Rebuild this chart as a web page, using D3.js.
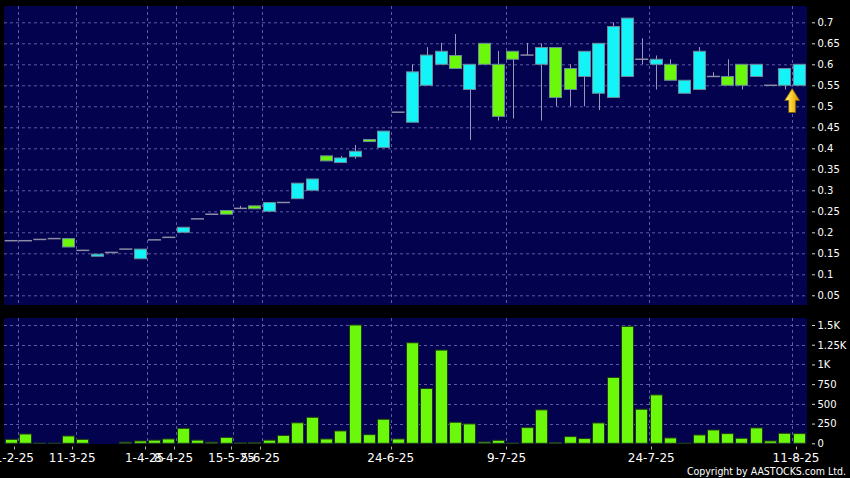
<!DOCTYPE html>
<html><head><meta charset="utf-8">
<script src="https://cdn.jsdelivr.net/npm/d3@7/dist/d3.min.js"></script>
<style>
html,body{margin:0;padding:0;background:#000;}
svg{display:block;}
</style></head>
<body>
<svg id="chart" width="850" height="478"></svg>
<script>
// ---- data ----
const openP  = [0.18,0.18,0.183,0.185,0.185,0.157,0.143,0.152,0.16,0.137,0.182,0.188,0.20,0.232,0.243,0.252,0.257,0.263,0.25,0.271,0.28,0.30,0.382,0.366,0.38,0.421,0.402,0.486,0.462,0.55,0.60,0.621,0.54,0.65,0.60,0.631,0.622,0.60,0.64,0.59,0.571,0.531,0.521,0.571,0.612,0.60,0.60,0.531,0.54,0.571,0.571,0.60,0.571,0.55,0.55,0.55];
const highP  = [0.18,0.18,0.183,0.185,0.185,0.157,0.148,0.152,0.16,0.16,0.182,0.188,0.212,0.232,0.243,0.252,0.263,0.263,0.271,0.271,0.317,0.327,0.382,0.382,0.408,0.421,0.441,0.486,0.60,0.641,0.651,0.672,0.60,0.65,0.632,0.631,0.651,0.65,0.64,0.60,0.631,0.65,0.70,0.71,0.662,0.621,0.612,0.562,0.641,0.581,0.612,0.60,0.60,0.55,0.59,0.60];
const lowP   = [0.18,0.18,0.183,0.185,0.165,0.157,0.143,0.152,0.16,0.137,0.182,0.188,0.20,0.232,0.243,0.243,0.257,0.256,0.25,0.271,0.28,0.30,0.37,0.366,0.375,0.416,0.402,0.486,0.462,0.55,0.60,0.59,0.42,0.60,0.466,0.471,0.622,0.466,0.50,0.50,0.50,0.491,0.521,0.571,0.60,0.54,0.562,0.531,0.54,0.571,0.55,0.54,0.571,0.55,0.54,0.55];
const closeP = [0.18,0.18,0.183,0.185,0.165,0.157,0.148,0.152,0.16,0.16,0.182,0.188,0.212,0.232,0.243,0.243,0.257,0.256,0.271,0.271,0.317,0.327,0.37,0.377,0.393,0.416,0.441,0.486,0.582,0.622,0.631,0.59,0.60,0.60,0.476,0.612,0.622,0.64,0.521,0.54,0.631,0.65,0.69,0.71,0.612,0.612,0.562,0.562,0.631,0.571,0.55,0.55,0.60,0.55,0.59,0.60];
const volume = [50,118,3,2,93,50,0,0,15,30,40,55,190,40,15,75,5,12,40,100,260,330,55,157,1500,110,305,55,1275,695,1182,267,246,17,38,4,199,424,8,85,60,258,835,1483,432,614,68,2,106,169,123,64,195,30,127,123];
const dateTickIdx    = [0,4,9,11,15,17,26,34,44,54];
const dateTickLabels = ["1-2-25","11-3-25","1-4-25","8-4-25","15-5-25","5-6-25","24-6-25","9-7-25","24-7-25","11-8-25"];
const priceTicks = [0.05,0.1,0.15,0.2,0.25,0.3,0.35,0.4,0.45,0.5,0.55,0.6,0.65,0.7];
const volTicks = [0,250,500,750,1000,1250,1500];
const volTickLabels = ["0","250","500","750","1K","1.25K","1.5K"];
const arrowIdx = 54;

// ---- layout ----
const svg = d3.select("#chart");
const L = 4, R = 807;
const topP = {y0: 6, y1: 305};
const botP = {y0: 318, y1: 444};
const n = openP.length;

const x = d3.scaleBand().domain(d3.range(n)).range([4, 806.5]).paddingInner(0.09).paddingOuter(0.045);
const xTick = d3.scaleLinear().domain([0, 54]).range([14.3, 796]);
const yP = d3.scaleLinear().domain([0, 0.7]).range([316.3, 22.3]);
const yV = d3.scaleLinear().domain([0, 1500]).range([443.3, 325]);
const bw = x.bandwidth();
const gap = x.step() * x.paddingInner();
const boundary = i => x(i) + bw + gap / 2;

const BG = "#02024e", GRID = "#5a5aa6", CYAN = "#14f4f8", GREEN = "#6cf80a";
const defs = svg.append("defs");
defs.append("clipPath").attr("id","cTop").append("rect").attr("x",L).attr("y",topP.y0).attr("width",R-L).attr("height",topP.y1-topP.y0);
defs.append("clipPath").attr("id","cBot").append("rect").attr("x",L).attr("y",botP.y0).attr("width",R-L).attr("height",botP.y1-botP.y0);
const grad = defs.append("linearGradient").attr("id","arrowG").attr("x1","0").attr("x2","1").attr("y1","0").attr("y2","0");
grad.append("stop").attr("offset","0%").attr("stop-color","#fff2a0");
grad.append("stop").attr("offset","45%").attr("stop-color","#f8d030");
grad.append("stop").attr("offset","100%").attr("stop-color","#d88a00");

// panels
[topP, botP].forEach(p => {
  svg.append("rect").attr("x",L).attr("y",p.y0).attr("width",R-L).attr("height",p.y1-p.y0).attr("fill",BG);
});

// ---- top panel ----
const gTop = svg.append("g").attr("clip-path","url(#cTop)");
gTop.selectAll("line.hg").data(priceTicks).join("line")
  .attr("x1",L).attr("x2",R).attr("y1",d=>yP(d)+0.5).attr("y2",d=>yP(d)+0.5)
  .attr("stroke",GRID).attr("stroke-dasharray","3,3").attr("stroke-width",1);
gTop.selectAll("line.vg").data(dateTickIdx).join("line")
  .attr("x1",d=>Math.round(boundary(d))+0.5).attr("x2",d=>Math.round(boundary(d))+0.5)
  .attr("y1",topP.y0).attr("y2",topP.y1)
  .attr("stroke",GRID).attr("stroke-dasharray","3,3").attr("stroke-width",1);

const cd = d3.range(n).map(i => ({i, o: openP[i], h: highP[i], l: lowP[i], c: closeP[i]}));
// wicks
gTop.selectAll("line.wick").data(cd).join("line")
  .attr("x1",d=>Math.round(x(d.i)+bw/2)+0.5).attr("x2",d=>Math.round(x(d.i)+bw/2)+0.5)
  .attr("y1",d=>yP(d.h)).attr("y2",d=>yP(d.l))
  .attr("stroke","#9a9ab8").attr("stroke-width",1);
// flat candles
gTop.selectAll("line.flat").data(cd.filter(d=>d.o===d.c)).join("line")
  .attr("x1",d=>x(d.i)).attr("x2",d=>x(d.i)+bw)
  .attr("y1",d=>yP(d.o)).attr("y2",d=>yP(d.o))
  .attr("stroke","#8c8ca4").attr("stroke-width",1.5);
// bodies
gTop.selectAll("rect.body").data(cd.filter(d=>d.o!==d.c)).join("rect")
  .attr("x",d=>Math.round(x(d.i))+0.5).attr("width",Math.round(bw)-1)
  .attr("y",d=>yP(Math.max(d.o,d.c))).attr("height",d=>Math.max(1,Math.abs(yP(d.o)-yP(d.c))))
  .attr("fill",d=>d.c>d.o?CYAN:GREEN)
  .attr("stroke","#6a8a98").attr("stroke-width",1);

// arrow marker
const ax = boundary(arrowIdx), ay = yP(lowP[arrowIdx]) - 1;
svg.append("path")
  .attr("d",`M${ax},${ay} L${ax+7.5},${ay+12} L${ax+3.5},${ay+12} L${ax+3.5},${ay+24} L${ax-3.5},${ay+24} L${ax-3.5},${ay+12} L${ax-7.5},${ay+12} Z`)
  .attr("fill","url(#arrowG)").attr("stroke","#7a5a00").attr("stroke-width",0.8);

// price axis
const ga = svg.append("g");
ga.selectAll("line.pt").data(priceTicks).join("line")
  .attr("x1",812).attr("x2",815).attr("y1",d=>yP(d)+0.5).attr("y2",d=>yP(d)+0.5)
  .attr("stroke","#d0d0d0");
ga.selectAll("text.pt").data(priceTicks).join("text")
  .attr("x",817.5).attr("y",d=>yP(d)+3.8)
  .attr("fill","#ffffff").attr("font-family","DejaVu Sans").attr("font-size","10px")
  .text(d=>String(+d.toFixed(2)));

// ---- volume panel ----
const gBot = svg.append("g").attr("clip-path","url(#cBot)");
gBot.selectAll("line.hg").data(volTicks.slice(1)).join("line")
  .attr("x1",L).attr("x2",R).attr("y1",d=>Math.round(yV(d))+0.5).attr("y2",d=>Math.round(yV(d))+0.5)
  .attr("stroke",GRID).attr("stroke-dasharray","3,3");
gBot.selectAll("line.vg").data(dateTickIdx).join("line")
  .attr("x1",d=>Math.round(boundary(d))+0.5).attr("x2",d=>Math.round(boundary(d))+0.5)
  .attr("y1",botP.y0).attr("y2",botP.y1)
  .attr("stroke",GRID).attr("stroke-dasharray","3,3");
gBot.selectAll("rect.vol").data(volume.map((v,i)=>({v,i}))).join("rect")
  .attr("x",d=>Math.round(x(d.i))+0.5).attr("width",Math.round(bw)-1)
  .attr("y",d=>yV(d.v)).attr("height",d=>yV(0)-yV(d.v))
  .attr("fill",GREEN).attr("stroke","#203a18").attr("stroke-width",1);

ga.selectAll("line.vt").data(volTicks).join("line")
  .attr("x1",812).attr("x2",815).attr("y1",d=>yV(d)+0.5).attr("y2",d=>yV(d)+0.5)
  .attr("stroke","#d0d0d0");
ga.selectAll("text.vt").data(volTicks).join("text")
  .attr("x",817.5).attr("y",d=>yV(d)+3.8)
  .attr("fill","#ffffff").attr("font-family","DejaVu Sans").attr("font-size","10px")
  .text((d,i)=>volTickLabels[i]);

// date axis
ga.selectAll("line.dt").data(dateTickIdx).join("line")
  .attr("x1",d=>Math.round(xTick(d))+0.5).attr("x2",d=>Math.round(xTick(d))+0.5)
  .attr("y1",446.5).attr("y2",449.5).attr("stroke","#b0b0b0");
ga.selectAll("text.dt").data(dateTickIdx).join("text")
  .attr("x",d=>xTick(d)).attr("y",461.5).attr("text-anchor","middle")
  .attr("fill","#ffffff").attr("font-family","DejaVu Sans").attr("font-size","12px")
  .text((d,i)=>dateTickLabels[i]);

svg.append("text").attr("x",846).attr("y",475).attr("text-anchor","end")
  .attr("fill","#ffffff").attr("font-family","DejaVu Sans Condensed, DejaVu Sans").attr("font-size","10.5px")
  .text("Copyright by AASTOCKS.com Ltd.");
</script>
</body></html>
